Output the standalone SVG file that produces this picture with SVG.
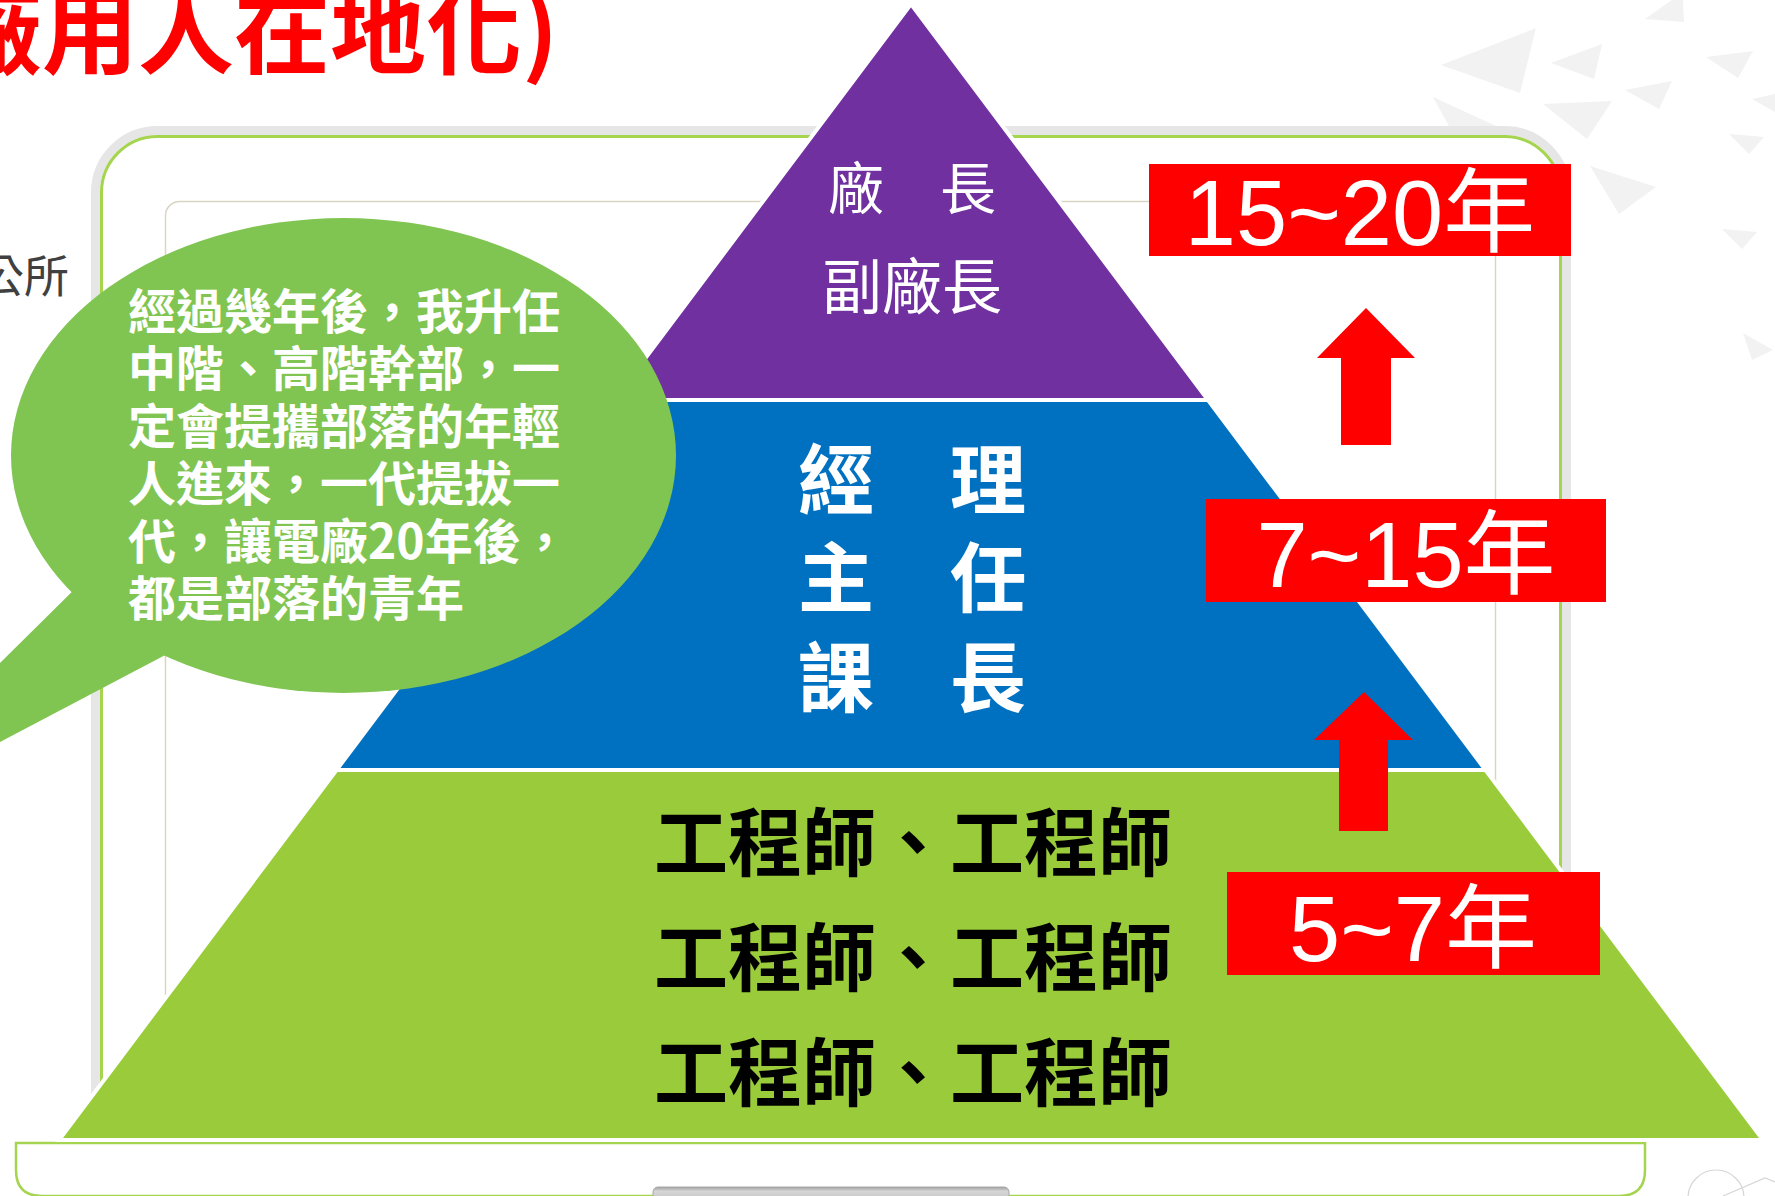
<svg xmlns="http://www.w3.org/2000/svg" width="1775" height="1196" viewBox="0 0 1775 1196" xml:lang="zh-Hant-TW">
<style>
.cjk{font-family:'Noto Sans CJK TC','Noto Sans CJK SC',sans-serif}
.num{font-family:'Liberation Sans','Noto Sans CJK TC',sans-serif;fill:#fff;font-size:92px;text-anchor:middle}
.tri{fill:#F2F2F2}
.band{stroke:#fff;stroke-width:4;stroke-linejoin:miter}
.wt{fill:#fff;text-anchor:middle}
.red{fill:#FF0000}
.bub{fill:#fff;font-size:48px;font-weight:bold}
.eng{fill:#000;font-size:74px;font-weight:bold;text-anchor:middle}
</style>
<defs>
<linearGradient id="pad" x1="0" y1="0" x2="0" y2="1">
<stop offset="0" stop-color="#A0A0A0"/>
<stop offset="0.3" stop-color="#D6D6D6"/>
<stop offset="1" stop-color="#C4C4C4"/>
</linearGradient>
</defs>
<rect width="1775" height="1196" fill="#fff"/>

<g id="title">
<text x="-54" y="66" class="cjk" font-size="96" font-weight="bold" fill="#FF0000">廠用人在地化)</text>
</g>
<g id="side-text">
<text x="-21" y="293" class="cjk" font-size="45" fill="#404040">公所</text>
</g>

<g id="decor">
<polygon class="tri" points="1645,19 1672,0 1683,0 1684,22"/>
<polygon class="tri" points="1441,65 1536,28 1520,93"/>
<polygon class="tri" points="1551,63 1602,44 1594,79"/>
<polygon class="tri" points="1706,57 1753,51 1738,78"/>
<polygon class="tri" points="1433,97 1520,137 1455,137"/>
<polygon class="tri" points="1625,90 1672,81 1659,109"/>
<polygon class="tri" points="1543,104 1612,101 1587,139"/>
<polygon class="tri" points="1752,99 1775,94 1775,112"/>
<polygon class="tri" points="1729,134 1764,137 1749,154"/>
<polygon class="tri" points="1590,166 1656,187 1619,214"/>
<polygon class="tri" points="1722,229 1757,232 1742,249"/>
<polygon class="tri" points="1743,333 1773,350 1752,360"/>
<circle cx="1716" cy="1198" r="28" fill="none" stroke="#D6D6D6" stroke-width="1.2"/>
<polyline points="1723,1196 1765,1178 1775,1182" fill="none" stroke="#D6D6D6" stroke-width="1.2"/>
</g>

<g id="laptop">
<rect x="95.5" y="130.5" width="1471" height="1050" rx="62" fill="#fff" stroke="#E6E6E6" stroke-width="9"/>
<rect x="101.5" y="136.5" width="1459" height="1040" rx="56" fill="none" stroke="#A5D44F" stroke-width="3"/>
<rect x="165.5" y="201.5" width="1330" height="940" rx="14" fill="none" stroke="#DAD5C3" stroke-width="1.5"/>
<path d="M16,1143 H1645 V1170 Q1645,1196 1619,1196 H42 Q16,1196 16,1170 Z" fill="#fff" stroke="#A5D44F" stroke-width="2.5"/>
<rect x="653" y="1187" width="356" height="14" rx="5" fill="url(#pad)" stroke="#A8A8A8" stroke-width="1"/>
</g>

<g id="level-top">
<polygon class="band" fill="#7030A0" points="911,4 1208,400 614,400"/>
<text class="cjk wt" x="912" y="209" font-size="56">廠　長</text>
<text class="cjk wt" x="912" y="309" font-size="60">副廠長</text>
</g>
<g id="level-mid">
<polygon class="band" fill="#0070C0" points="614,400 1208,400 1485.5,770 336.5,770"/>
<text class="cjk wt" x="912" y="508" font-size="76" font-weight="bold">經　理</text>
<text class="cjk wt" x="912" y="606" font-size="76" font-weight="bold">主　任</text>
<text class="cjk wt" x="912" y="706" font-size="76" font-weight="bold">課　長</text>
</g>
<g id="level-base">
<polygon class="band" fill="#9ACB3B" points="336.5,770 1485.5,770 1763,1140 59,1140"/>
<text class="cjk eng" x="913" y="870">工程師、工程師</text>
<text class="cjk eng" x="913" y="985">工程師、工程師</text>
<text class="cjk eng" x="913" y="1100">工程師、工程師</text>
</g>

<g id="bubble">
<ellipse cx="343.5" cy="455.5" rx="332.5" ry="237.5" fill="#80C551"/>
<polygon points="91,573 -171,832 190,642 150,560" fill="#80C551"/>
<text class="cjk bub" x="128" y="329">經過幾年後，我升任</text>
<text class="cjk bub" x="128" y="386">中階、高階幹部，一</text>
<text class="cjk bub" x="128" y="444">定會提攜部落的年輕</text>
<text class="cjk bub" x="128" y="501">人進來，一代提拔一</text>
<text class="cjk bub" x="128" y="559">代，讓電廠20年後，</text>
<text class="cjk bub" x="128" y="616">都是部落的青年</text>
</g>

<g id="years-15-20">
<rect class="red" x="1149" y="164" width="422" height="92"/>
<text class="num" x="1360" y="245">15~20年</text>
</g>
<g id="years-7-15">
<rect class="red" x="1206" y="499" width="400" height="103"/>
<text class="num" x="1406" y="587">7~15年</text>
</g>
<g id="years-5-7">
<rect class="red" x="1227" y="872" width="373" height="103"/>
<text class="num" x="1413" y="961">5~7年</text>
</g>

<g id="connectors">
<polygon class="red" points="1366,308 1415,358 1391,358 1391,445 1341,445 1341,358 1317,358"/>
<polygon class="red" points="1364,692 1413,740 1388,740 1388,831 1339,831 1339,740 1314,740"/>
</g>
</svg>
